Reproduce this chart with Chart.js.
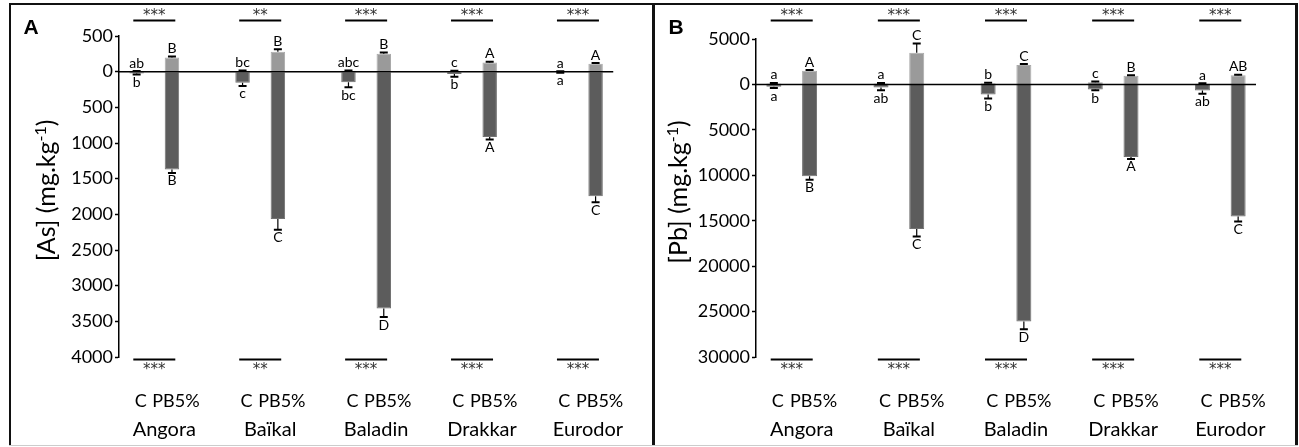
<!DOCTYPE html>
<html>
<head>
<meta charset="utf-8">
<script src="https://cdn.jsdelivr.net/npm/chart.js@4.4.1/dist/chart.umd.min.js"></script>
<style>
body { margin: 0; background: #fff; }
#wrap { position: relative; width: 1299px; height: 447px; overflow: hidden; }
canvas { position: absolute; top: 0; }
#cA { left: 0; }
#cB { left: 653px; }
.ln { position: absolute; background: #111; }
</style>
</head>
<body>
<div id="wrap">
  <canvas id="cA" width="653" height="447"></canvas>
  <canvas id="cB" width="646" height="447"></canvas>
  <div class="ln" style="left:9px;top:3px;width:1289px;height:2px"></div>
  <div class="ln" style="left:9px;top:3px;width:2px;height:442px"></div>
  <div class="ln" style="left:652px;top:3px;width:3px;height:442px"></div>
  <div class="ln" style="left:1295px;top:3px;width:3px;height:442px"></div>
  <div class="ln" style="left:9px;top:445px;width:1289px;height:1px;background:#ccc"></div>
</div>
<script>
const groups = ["Angora", "Baïkal", "Baladin", "Drakkar", "Eurodor"];
const treatments = ["C", "PB5%"];

// [As] (mg.kg-1): light part above 0, dark part below 0
const asCUp = [5, 10, 12, 8, 4];
const asCUpErr = [3, 5, 4, 4, 3];
const asCDown = [-25, -155, -150, -32, -8];
const asCDownErr = [15, 45, 70, 40, 6];
const asPbUp = [200, 280, 250, 130, 110];
const asPbUpErr = [12, 35, 18, 8, 10];
const asPbDown = [-1370, -2065, -3320, -915, -1745];
const asPbDownErr = [50, 150, 120, 35, 85];
const asCUpLetters = ["ab", "bc", "abc", "c", "a"];
const asCDownLetters = ["b", "c", "bc", "b", "a"];
const asPbUpLetters = ["B", "B", "B", "A", "A"];
const asPbDownLetters = ["B", "C", "D", "A", "C"];
const asSigTop = ["***", "**", "***", "***", "***"];
const asSigBottom = ["***", "**", "***", "***", "***"];

// [Pb] (mg.kg-1)
const pbCUp = [100, 100, 120, 250, 80];
const pbCUpErr = [60, 60, 60, 60, 60];
const pbCDown = [-250, -330, -1100, -550, -660];
const pbCDownErr = [150, 300, 450, 100, 370];
const pbPbUp = [1500, 3500, 2130, 960, 1000];
const pbPbUpErr = [80, 1000, 110, 60, 60];
const pbPbDown = [-10100, -15900, -26100, -7980, -14540];
const pbPbDownErr = [380, 830, 850, 220, 550];
const pbCUpLetters = ["a", "a", "b", "c", "a"];
const pbCDownLetters = ["a", "ab", "b", "b", "ab"];
const pbPbUpLetters = ["A", "C", "C", "B", "AB"];
const pbPbDownLetters = ["B", "C", "D", "A", "C"];
const pbSigTop = ["***", "***", "***", "***", "***"];
const pbSigBottom = ["***", "***", "***", "***", "***"];

const FONT = "Lato, 'Open Sans', sans-serif";

// spread per-group values over C / PB5% / gap slots
function slots(cArr, pbArr, gap) {
    const out = [];
    cArr.forEach((v, i) => {
        out.push(v, pbArr[i]);
        if (i < cArr.length - 1) out.push(gap);
    });
    return out;
}

function drawTitle(ctx, x, y, main, sup, tail, size) {
    ctx.save();
    ctx.translate(x, y);
    ctx.rotate(-Math.PI / 2);
    ctx.fillStyle = "#000";
    ctx.textBaseline = "alphabetic";
    ctx.textAlign = "left";
    ctx.font = size + "px " + FONT;
    const w1 = ctx.measureText(main).width;
    const w3 = ctx.measureText(tail).width;
    const small = Math.round(size * 0.62);
    ctx.font = small + "px " + FONT;
    const w2 = ctx.measureText(sup).width;
    const sx = -(w1 + w2 + w3) / 2;
    const base = size * 0.36;
    ctx.font = size + "px " + FONT;
    ctx.fillText(main, sx, base);
    ctx.fillText(tail, sx + w1 + w2, base);
    ctx.font = small + "px " + FONT;
    ctx.fillText(sup, sx + w1, base - size * 0.36);
    ctx.restore();
}

function makePanel(id, p) {
    const labels = slots(groups.map(() => treatments[0]), groups.map(() => treatments[1]), "");
    const up = slots(p.cUp, p.pbUp, null);
    const upErr = slots(p.cUpErr, p.pbUpErr, null);
    const down = slots(p.cDown, p.pbDown, null);
    const downErr = slots(p.cDownErr, p.pbDownErr, null);
    const upLet = slots(p.cUpLetters, p.pbUpLetters, null);
    const downLet = slots(p.cDownLetters, p.pbDownLetters, null);

    const extras = {
        id: "extras",
        afterDatasetsDraw(chart) {
            const ctx = chart.ctx;
            const y = chart.scales.y;
            const area = chart.chartArea;
            const meta = chart.getDatasetMeta(0);
            ctx.save();
            ctx.strokeStyle = "#000";
            ctx.fillStyle = "#000";

            // zero line over the bars
            const y0 = y.getPixelForValue(0);
            ctx.lineWidth = 1.5;
            ctx.beginPath();
            ctx.moveTo(area.left, y0);
            ctx.lineTo(area.right, y0);
            ctx.stroke();

            // error bars and letters
            ctx.font = "14px " + FONT;
            ctx.textAlign = "center";
            up.forEach((v, j) => {
                if (v === null) return;
                const x = meta.data[j].x;
                const yU = y.getPixelForValue(v);
                const yUe = y.getPixelForValue(v + upErr[j]);
                const yD = y.getPixelForValue(down[j]);
                const yDe = y.getPixelForValue(down[j] - downErr[j]);
                ctx.lineWidth = 1.2;
                ctx.beginPath();
                ctx.moveTo(x, yU); ctx.lineTo(x, yUe);
                ctx.moveTo(x, yD); ctx.lineTo(x, yDe);
                ctx.stroke();
                ctx.lineWidth = 2;
                ctx.beginPath();
                ctx.moveTo(x - 4, yUe); ctx.lineTo(x + 4, yUe);
                ctx.moveTo(x - 4, yDe); ctx.lineTo(x + 4, yDe);
                ctx.stroke();
                ctx.textBaseline = "bottom";
                ctx.fillText(upLet[j], x, yUe - 1);
                ctx.textBaseline = "top";
                ctx.fillText(downLet[j], x, yDe + 1);
            });

            // significance bars, group names
            groups.forEach((g, i) => {
                const cx = (meta.data[3 * i].x + meta.data[3 * i + 1].x) / 2;
                ctx.lineWidth = 2;
                ctx.beginPath();
                ctx.moveTo(cx - 21, 20.5); ctx.lineTo(cx + 21, 20.5);
                ctx.moveTo(cx - 21, area.bottom + 2.5); ctx.lineTo(cx + 21, area.bottom + 2.5);
                ctx.stroke();
                ctx.font = "15px 'DejaVu Sans', sans-serif";
                ctx.fillStyle = "#333";
                ctx.textBaseline = "middle";
                ctx.fillText(p.sigTop[i], cx, 16);
                ctx.fillText(p.sigBottom[i], cx, area.bottom + 13);
                ctx.fillStyle = "#000";
                ctx.font = "20px " + FONT;
                ctx.fillText(g, cx + 10, 430);
            });

            // panel letter and axis title
            ctx.font = "bold 21px 'Liberation Sans', Arial, sans-serif";
            ctx.textBaseline = "middle";
            ctx.fillText(p.letter, p.letterX, 28);
            drawTitle(ctx, p.titleX, (area.top + area.bottom) / 2 - 6, p.titleMain, "-1", ")", 25);
            ctx.restore();
        }
    };

    return new Chart(document.getElementById(id), {
        type: "bar",
        data: {
            labels,
            datasets: [{
                data: up,
                backgroundColor: "#9a9a9a",
                borderColor: "#aaaaaa",
                borderWidth: 1
            }, {
                data: down,
                backgroundColor: "#5c5c5c",
                borderColor: "#727272",
                borderWidth: 1
            }]
        },
        options: {
            responsive: false,
            animation: false,
            layout: { padding: { left: 0, top: p.top, right: p.right, bottom: 0 } },
            datasets: { bar: { barPercentage: p.barPct, categoryPercentage: 1 } },
            plugins: { legend: { display: false }, tooltip: { enabled: false } },
            scales: {
                x: {
                    stacked: true,
                    grid: { display: false, drawTicks: false },
                    border: { display: false },
                    ticks: {
                        autoSkip: false, maxRotation: 0, padding: 33, labelOffset: 4,
                        color: "#000", font: { family: FONT, size: 18 }
                    },
                    afterFit: s => { s.height = 90; }
                },
                y: {
                    stacked: true,
                    min: p.min, max: p.max,
                    ticks: {
                        stepSize: p.step, padding: 2, color: "#000",
                        font: { family: FONT, size: 18 },
                        callback: v => Math.abs(v)
                    },
                    grid: { drawOnChartArea: false, drawTicks: true, tickLength: 4, tickColor: "#000", tickWidth: 1.5 },
                    border: { display: true, color: "#000", width: 1.5 },
                    afterFit: s => { s.width = p.axisLeft; }
                }
            }
        },
        plugins: [extras]
    });
}

window.addEventListener("load", () => {
    makePanel("cA", {
        cUp: asCUp, cUpErr: asCUpErr, cDown: asCDown, cDownErr: asCDownErr,
        pbUp: asPbUp, pbUpErr: asPbUpErr, pbDown: asPbDown, pbDownErr: asPbDownErr,
        cUpLetters: asCUpLetters, cDownLetters: asCDownLetters,
        pbUpLetters: asPbUpLetters, pbDownLetters: asPbDownLetters,
        sigTop: asSigTop, sigBottom: asSigBottom,
        min: -4000, max: 500, step: 500,
        top: 36, right: 21, axisLeft: 119, barPct: 0.41,
        letter: "A", letterX: 31, titleX: 46, titleMain: "[As] (mg.kg"
    });
    makePanel("cB", {
        cUp: pbCUp, cUpErr: pbCUpErr, cDown: pbCDown, cDownErr: pbCDownErr,
        pbUp: pbPbUp, pbUpErr: pbPbUpErr, pbDown: pbPbDown, pbDownErr: pbPbDownErr,
        cUpLetters: pbCUpLetters, cDownLetters: pbCDownLetters,
        pbUpLetters: pbPbUpLetters, pbDownLetters: pbPbDownLetters,
        sigTop: pbSigTop, sigBottom: pbSigBottom,
        min: -30000, max: 5000, step: 5000,
        top: 39, right: 43, axisLeft: 103, barPct: 0.42,
        letter: "B", letterX: 23, titleX: 25, titleMain: "[Pb] (mg.kg"
    });
});
</script>
</body>
</html>
